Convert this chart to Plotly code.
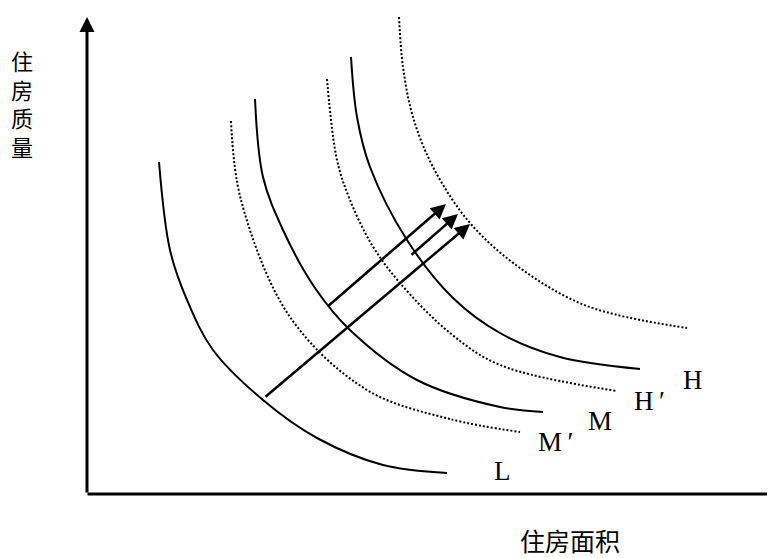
import plotly.graph_objects as go

# indifference curves (origin at the axes corner)
L_x = [72, 83, 100, 126, 176, 230, 296, 360]
L_y = [332, 244, 194, 144, 94, 56, 29, 21]
M2_x = [144, 154, 203, 280, 363, 433]
M2_y = [373, 294, 177, 104, 75, 62]
M_x = [168, 176, 196, 228, 263, 330, 413, 456]
M_y = [395, 317, 264, 206, 164, 114, 87, 82]
H2_x = [240, 250, 263, 285, 313, 363, 413, 530]
H2_y = [415, 334, 294, 249, 211, 161, 129, 103]
H_x = [264, 270, 283, 320, 366, 413, 473, 553]
H_y = [437, 377, 327, 254, 196, 161, 137, 125]
OUT_x = [312, 316, 326, 346, 383, 433, 500, 600]
OUT_y = [477, 427, 377, 327, 271, 226, 188, 166]

# shift arrows: (start x, start y, end x, end y)
shifts = [(177, 96, 383, 270), (240, 187, 359, 290), (323, 238, 371, 280)]

curve_labels = ["L", "M\u2009′", "M", "H\u2009′", "H"]
label_x = [415, 468, 513, 562, 606]
label_y = [23, 52, 73, 93, 114]

x_title = "住房面积"
y_title = "住房质量"

fig = go.Figure()
for xs, ys, dotted in [(L_x, L_y, False), (M2_x, M2_y, True), (M_x, M_y, False),
                       (H2_x, H2_y, True), (H_x, H_y, False), (OUT_x, OUT_y, True)]:
    fig.add_trace(go.Scatter(
        x=xs, y=ys, mode="lines",
        line={"color": "black", "width": 2, "shape": "spline", "smoothing": 1,
              "dash": "2px,2px" if dotted else "solid"},
        hoverinfo="skip",
    ))

arrow = dict(xref="x", yref="y", axref="x", ayref="y", text="", showarrow=True,
             arrowhead=2, arrowcolor="black", standoff=0)
# axes
fig.add_annotation(x=0, y=477, ax=0, ay=0, arrowwidth=3, arrowsize=1, **arrow)
fig.add_annotation(x=698, y=0, ax=-1, ay=0, arrowwidth=3, arrowsize=1, **arrow)
for x0, y0, x1, y1 in shifts:
    fig.add_annotation(x=x1, y=y1, ax=x0, ay=y0, arrowwidth=2.5, arrowsize=1.2, **arrow)

serif = {"family": "Liberation Serif, Times New Roman, serif", "size": 27, "color": "black"}
for t, x, y in zip(curve_labels, label_x, label_y):
    fig.add_annotation(x=x, y=y, text=t, showarrow=False, font=serif)

cjk = {"family": "Noto Sans CJK SC", "size": 25, "color": "black"}
fig.add_annotation(x=483, y=-46, text=x_title, showarrow=False, font=cjk)
fig.add_annotation(x=-65, y=391, text="<br>".join(y_title), showarrow=False,
                   font={**cjk, "size": 22})

# the page body adds an 8px margin, so the figure is 8px smaller each way
fig.update_layout(
    width=767, height=550, margin={"l": 0, "r": 0, "t": 0, "b": 0},
    paper_bgcolor="white", plot_bgcolor="white", showlegend=False,
)
fig.update_xaxes(range=[-79, 688], visible=False)
fig.update_yaxes(range=[-64, 486], visible=False)
fig.write_html("out.html")
